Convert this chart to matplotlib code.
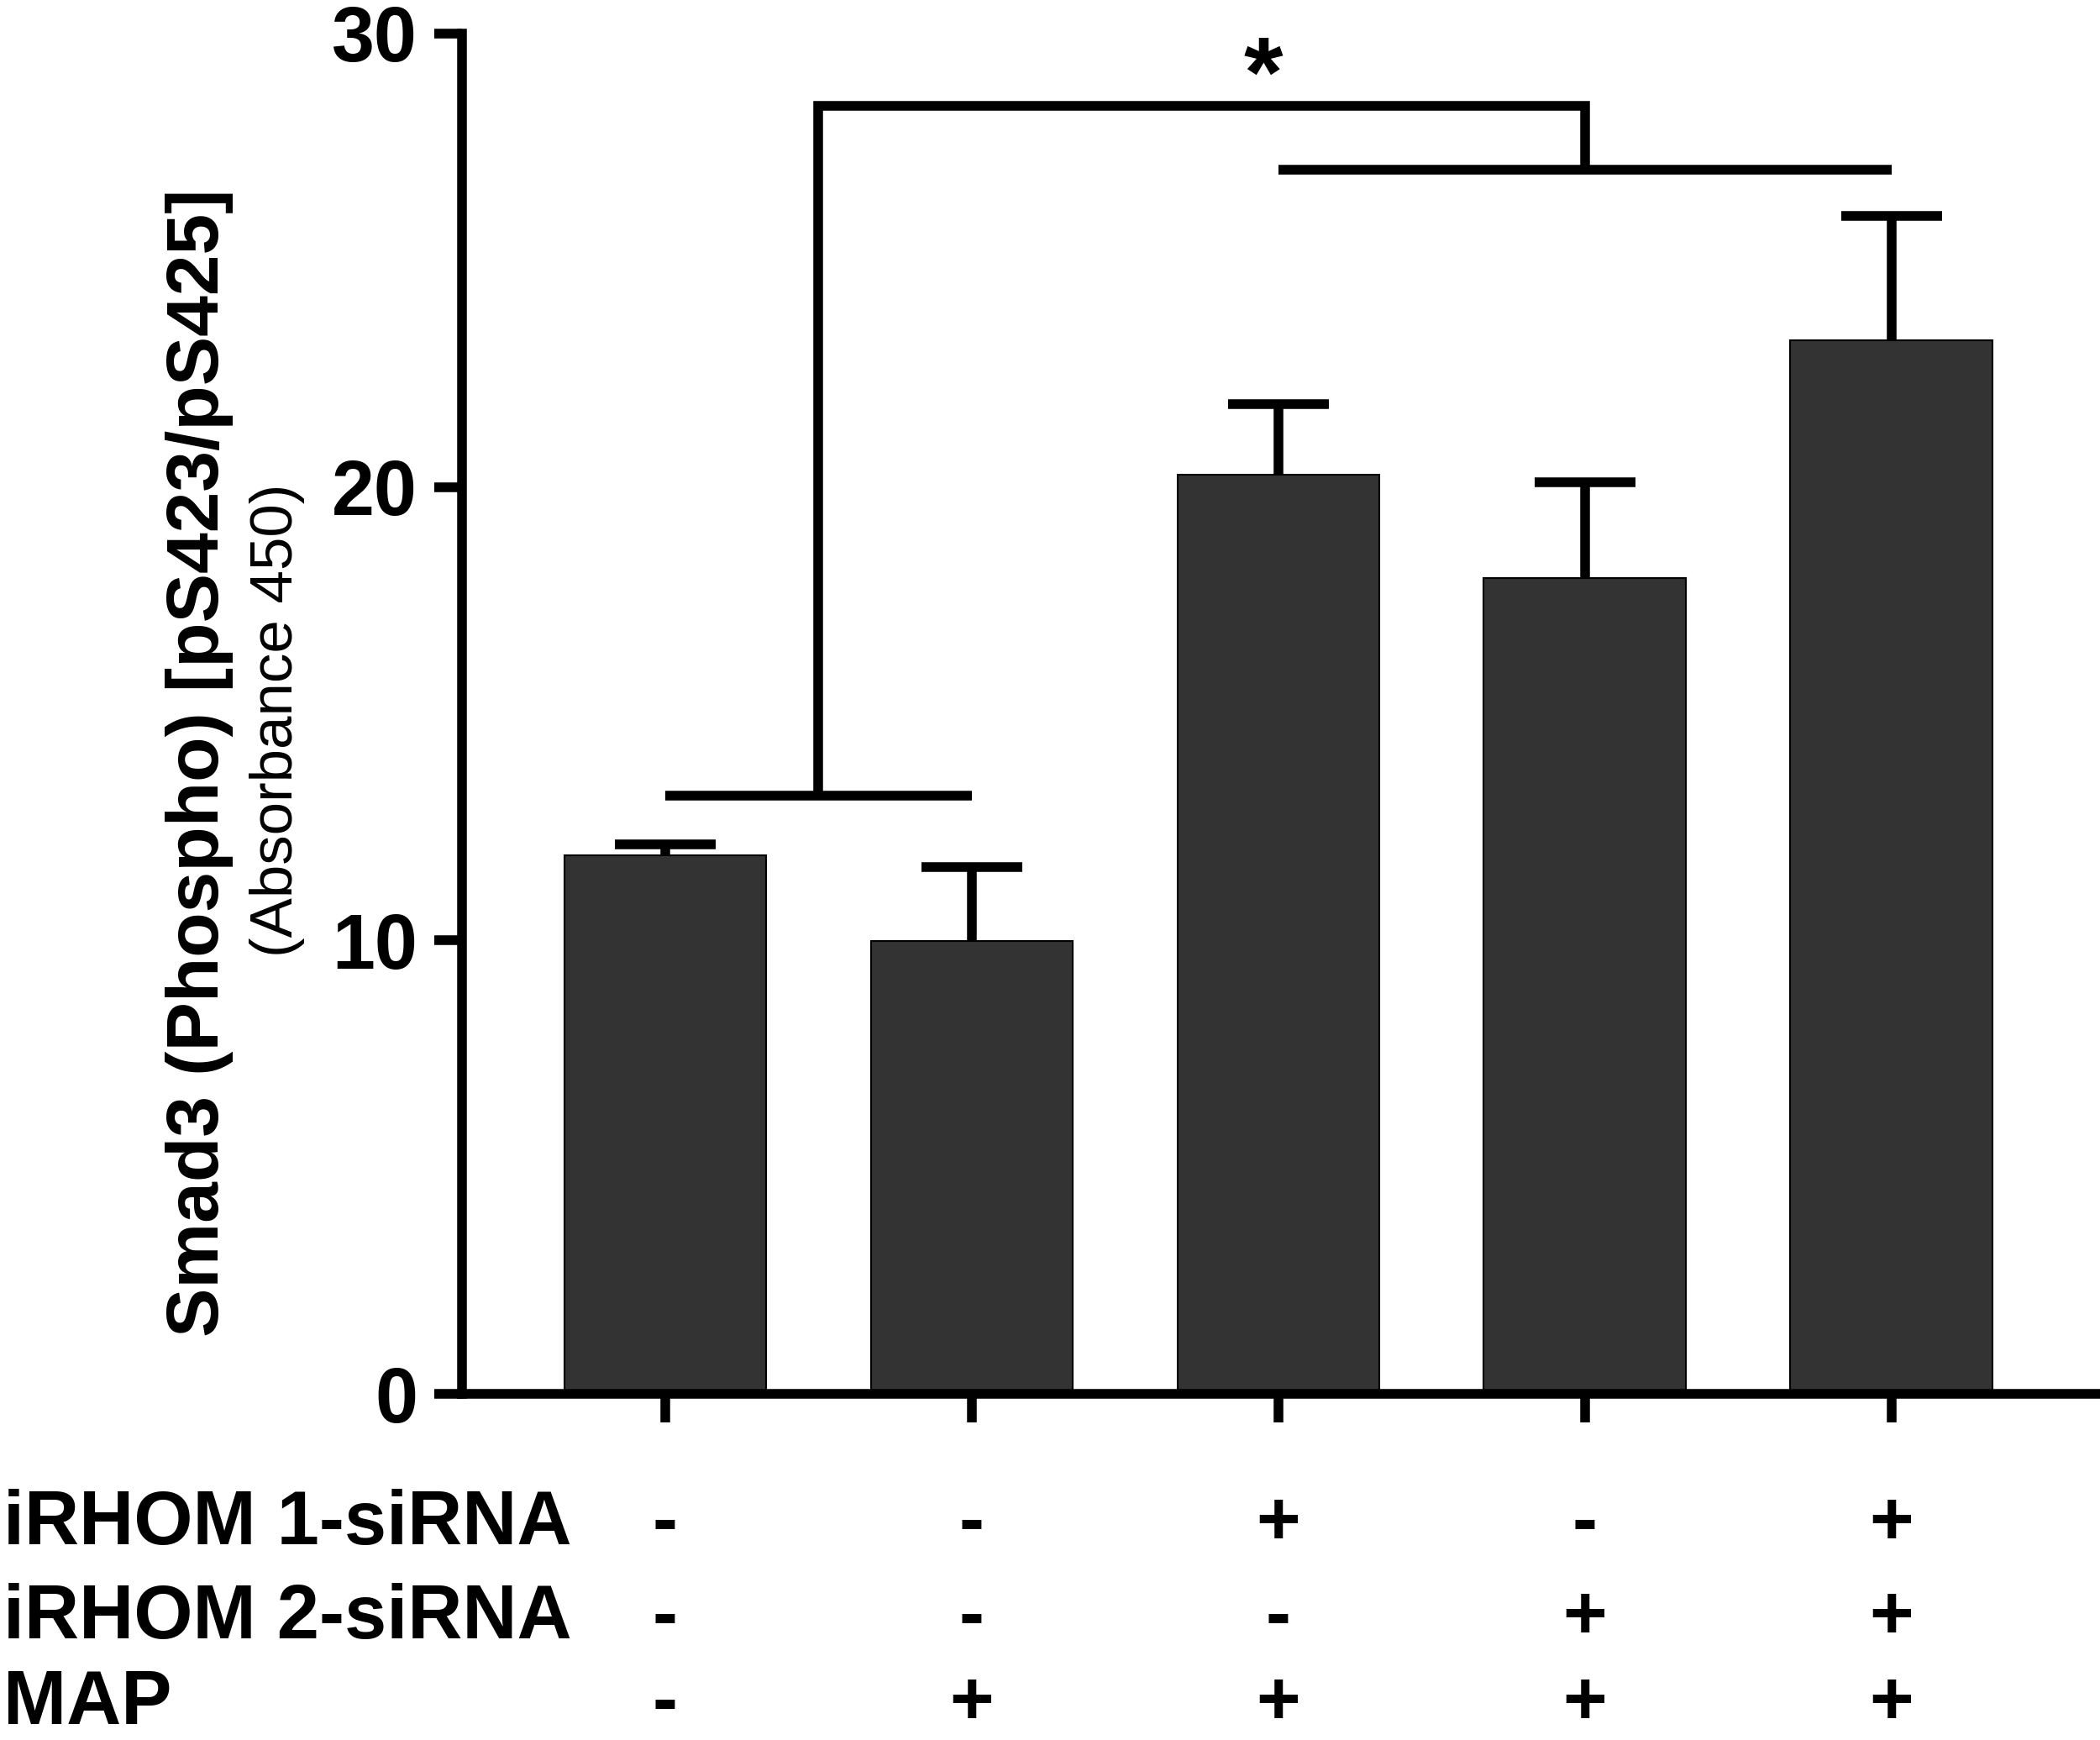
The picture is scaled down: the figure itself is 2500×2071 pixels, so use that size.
import matplotlib
matplotlib.use("Agg")
import matplotlib.pyplot as plt
from matplotlib.transforms import blended_transform_factory

plt.rcParams["font.family"] = ["Liberation Sans", "DejaVu Sans"]

# data
means = [11.87, 9.98, 20.28, 18.0, 23.23]
sem = [0.24, 1.63, 1.55, 2.1, 2.75]
row_names = ["iRHOM 1-siRNA", "iRHOM 2-siRNA", "MAP"]
irhom1 = ["-", "-", "+", "-", "+"]
irhom2 = ["-", "-", "-", "+", "+"]
map_tx = ["-", "+", "+", "+", "+"]
yticks = [0, 10, 20, 30]

# significance bracket: left group (bars 0-1) vs right group (bars 2-4)
left_group = (0, 1, 13.2)
right_group = (2, 4, 27.0)
bracket_top = 28.4
star_pos = (1.95, 28.95)

LW = 8.3
BAR_COLOR = "#333333"

fig = plt.figure(figsize=(25, 20.71), dpi=100)
ax = fig.add_axes([0.22, 1 - 1659 / 2071, (2495 - 550) / 2500, 1619 / 2071])

x = list(range(len(means)))
ax.bar(x, means, width=0.66, color=BAR_COLOR, edgecolor="black", linewidth=1.5, zorder=2)

tops = [m + e for m, e in zip(means, sem)]
ax.vlines(x, means, tops, colors="black", linewidth=LW, zorder=3)
ax.hlines(tops, [i - 0.165 for i in x], [i + 0.165 for i in x], colors="black", linewidth=LW, zorder=3)

# bracket
lx0, lx1, ly = left_group
rx0, rx1, ry = right_group
lmid = (lx0 + lx1) / 2
rmid = (rx0 + rx1) / 2
ax.plot([lx0, lx1], [ly, ly], color="black", lw=LW, solid_capstyle="butt", clip_on=False)
ax.plot([rx0, rx1], [ry, ry], color="black", lw=LW, solid_capstyle="butt", clip_on=False)
ax.plot([lmid, lmid, rmid, rmid], [ly, bracket_top, bracket_top, ry], color="black", lw=LW,
        solid_capstyle="butt", solid_joinstyle="miter", clip_on=False)
ax.text(star_pos[0], star_pos[1], "*", ha="center", va="center", fontsize=86, fontweight="bold")

ax.set_xlim(-0.663, 4.666)
ax.set_ylim(0, 30)
ax.set_yticks(yticks)
ax.set_xticks(x)
ax.set_xticklabels([])
for s in ["top", "right"]:
    ax.spines[s].set_visible(False)
ax.spines["left"].set_linewidth(LW)
ax.spines["bottom"].set_linewidth(LW)
ax.tick_params(axis="y", length=24, width=LW, pad=14, labelsize=66)
ax.tick_params(axis="x", length=24.5, width=LW)
for lab in ax.get_yticklabels():
    lab.set_fontweight("bold")

# y label (two lines, different weights)
fig.text(238 / 2500, 1 - 908 / 2071, "Smad3 (Phospho) [pS423/pS425]", rotation=90,
         ha="center", va="center", fontsize=63, fontweight="bold")
fig.text(330 / 2500, 1 - 857 / 2071, "(Absorbance 450)", rotation=90,
         ha="center", va="center", fontsize=51)

# treatment table below the axis
trans = blended_transform_factory(ax.transData, fig.transFigure)
row_y = [1 - 1838 / 2071, 1 - 1950 / 2071, 1 - 2052 / 2071]
for name, signs, yy in zip(row_names, [irhom1, irhom2, map_tx], row_y):
    fig.text(4 / 2500, yy, name, ha="left", va="baseline", fontsize=65, fontweight="bold")
    for xi, sg in zip(x, signs):
        ax.text(xi, yy, sg, transform=trans, ha="center", va="baseline",
                fontsize=65, fontweight="bold")

fig.savefig("out.png", dpi=100)
